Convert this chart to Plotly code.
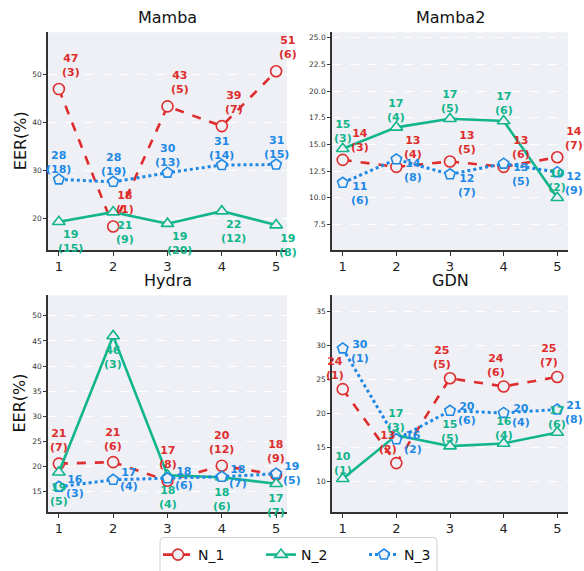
import plotly.graph_objects as go

# ---------------- data ----------------
x_vals = [1, 2, 3, 4, 5]
series_names = ["N_1", "N_2", "N_3"]
panel_titles = ["Mamba", "Mamba2", "Hydra", "GDN"]

mamba_n1 = [47.0, 18.4, 43.4, 39.3, 50.7]
mamba_n2 = [19.4, 21.4, 19.0, 21.6, 18.7]
mamba_n3 = [28.2, 27.7, 29.6, 31.2, 31.3]
mamba_r1 = [3, 1, 5, 7, 6]
mamba_r2 = [15, 9, 20, 12, 8]
mamba_r3 = [18, 19, 13, 14, 15]

mamba2_n1 = [13.55, 12.9, 13.4, 12.9, 13.8]
mamba2_n2 = [14.6, 16.6, 17.4, 17.2, 10.0]
mamba2_n3 = [11.4, 13.6, 12.2, 13.2, 12.4]
mamba2_r1 = [3, 4, 5, 6, 7]
mamba2_r2 = [3, 4, 5, 6, 2]
mamba2_r3 = [6, 8, 7, 5, 9]

hydra_n1 = [20.6, 20.9, 17.2, 20.2, 18.4]
hydra_n2 = [18.9, 46.0, 18.3, 17.9, 16.6]
hydra_n3 = [16.0, 17.4, 17.7, 18.0, 18.6]
hydra_r1 = [7, 6, 8, 12, 9]
hydra_r2 = [5, 3, 4, 6, 7]
hydra_r3 = [3, 4, 6, 7, 5]

gdn_n1 = [23.6, 12.7, 25.2, 24.0, 25.4]
gdn_n2 = [10.4, 16.8, 15.2, 15.6, 17.2]
gdn_n3 = [29.6, 16.2, 20.4, 20.1, 20.6]
gdn_r1 = [1, 2, 5, 6, 7]
gdn_r2 = [1, 3, 5, 4, 6]
gdn_r3 = [1, 2, 6, 4, 8]

# ---------------- styling ----------------
W, H = 584, 571
colors = ["#DE2D2D", "#12B58C", "#1E88E5"]
dashes = ["dash", "solid", "dot"]
widths = [2.6, 2.6, 3.0]
symbols = ["circle", "triangle-up", "pentagon"]
bg = "#EFF0F5"
font_family = "DejaVu Sans"

panels = [
    dict(vals=[mamba_n1, mamba_n2, mamba_n3], ranks=[mamba_r1, mamba_r2, mamba_r3],
         px=(48, 287), py=(33, 255), yr=[13.5, 58.8], ticks=[20, 30, 40, 50], fmt="{:d}",
         off=[(12, 24), (12, -20), (0, 17)], ylabel=True),
    dict(vals=[mamba2_n1, mamba2_n2, mamba2_n3], ranks=[mamba2_r1, mamba2_r2, mamba2_r3],
         px=(332, 568), py=(33, 255), yr=[5.1, 25.5],
         ticks=[7.5, 10.0, 12.5, 15.0, 17.5, 20.0, 22.5, 25.0], fmt="{:.1f}",
         off=[(17, 19), (0, 17), (17, -11)], ylabel=False),
    dict(vals=[hydra_n1, hydra_n2, hydra_n3], ranks=[hydra_r1, hydra_r2, hydra_r3],
         px=(48, 287), py=(301, 522), yr=[11.0, 54.1], ticks=[15, 20, 25, 30, 35, 40, 45, 50], fmt="{:d}",
         off=[(0, 23), (0, -22), (16, 0)], ylabel=True),
    dict(vals=[gdn_n1, gdn_n2, gdn_n3], ranks=[gdn_r1, gdn_r2, gdn_r3],
         px=(332, 568), py=(301, 522), yr=[5.5, 37.45], ticks=[10, 15, 20, 25, 30, 35], fmt="{:d}",
         off=[(-8, 21), (0, 15), (17, -3)], ylabel=False),
]

fig = go.Figure()
annotations = []
layout = {}

for i, p in enumerate(panels):
    k = "" if i == 0 else str(i + 1)
    xa, ya = "x" + k, "y" + k
    xdom = [p["px"][0] / W, p["px"][1] / W]
    ydom = [1 - p["py"][1] / H, 1 - p["py"][0] / H]
    layout["xaxis" + k] = dict(
        domain=xdom, range=[0.8, 5.2], anchor=ya, tickvals=x_vals,
        ticktext=[str(v) for v in x_vals], showgrid=False, zeroline=False,
        showline=True, linecolor="#333333", linewidth=1.5, ticks="outside",
        ticklen=4, tickcolor="#333333", tickfont=dict(size=13, color="#222", family=font_family),
        fixedrange=True)
    layout["yaxis" + k] = dict(
        domain=ydom, range=p["yr"], anchor=xa, tickvals=p["ticks"],
        ticktext=[p["fmt"].format(int(t) if p["fmt"] == "{:d}" else t) for t in p["ticks"]],
        showgrid=True, gridcolor="white", griddash="dash", gridwidth=1.3, zeroline=False,
        showline=True, linecolor="#333333", linewidth=1.5, ticks="outside",
        ticklen=3, tickcolor="#333333", tickfont=dict(size=7.5, color="#333", family=font_family),
        fixedrange=True)
    for s in range(3):
        fig.add_trace(go.Scatter(
            x=x_vals, y=p["vals"][s], xaxis=xa, yaxis=ya, mode="lines+markers",
            name=series_names[s], legendgroup=series_names[s], showlegend=(i == 0),
            line=dict(color=colors[s], dash=dashes[s], width=widths[s]),
            marker=dict(symbol=symbols[s], size=11, color=bg,
                        line=dict(color=colors[s], width=1.6)),
            cliponaxis=False))
        dx, dy = p["off"][s]
        for xv, yv, r in zip(x_vals, p["vals"][s], p["ranks"][s]):
            annotations.append(dict(
                x=xv, y=yv, xref=xa, yref=ya, text=f"<b>{round(yv)}<br>({r})</b>",
                showarrow=False, xshift=dx, yshift=dy,
                font=dict(size=11, color=colors[s], family=font_family)))
    # panel title
    annotations.append(dict(
        x=(p["px"][0] + p["px"][1]) / 2 / W, y=1 - (p["py"][0] - 15) / H,
        xref="paper", yref="paper", text=panel_titles[i], showarrow=False,
        font=dict(size=16, color="#111", family=font_family), yanchor="middle",
        xanchor="center"))
    if p["ylabel"]:
        annotations.append(dict(
            x=20 / W, y=1 - (p["py"][0] + p["py"][1]) / 2 / H, xref="paper", yref="paper",
            text="EER(%)", textangle=-90, showarrow=False, xanchor="center", yanchor="middle",
            font=dict(size=16, color="#111", family=font_family)))

# plot backgrounds as shapes
shapes = []
for i, p in enumerate(panels):
    shapes.append(dict(type="rect", xref="paper", yref="paper", layer="below",
                       x0=p["px"][0] / W, x1=p["px"][1] / W,
                       y0=1 - p["py"][1] / H, y1=1 - p["py"][0] / H,
                       fillcolor=bg, line=dict(width=0)))


# rounded legend frame (extends below the page edge, as in the reference)
def px2paper_path(x0, x1, y0, y1, r):
    fx = lambda v: v / W
    fy = lambda v: 1 - v / H
    return (f"M {fx(x0 + r)},{fy(y0)} L {fx(x1 - r)},{fy(y0)} Q {fx(x1)},{fy(y0)} {fx(x1)},{fy(y0 + r)} "
            f"L {fx(x1)},{fy(y1)} L {fx(x0)},{fy(y1)} L {fx(x0)},{fy(y0 + r)} "
            f"Q {fx(x0)},{fy(y0)} {fx(x0 + r)},{fy(y0)} Z")


shapes.append(dict(type="path", xref="paper", yref="paper", layer="above",
                   path=px2paper_path(160, 437, 548, 585, 4),
                   fillcolor="white", line=dict(color="#D0D0D0", width=1)))

fig.update_layout(
    width=W, height=H, margin=dict(l=0, r=0, t=0, b=0),
    paper_bgcolor="white", plot_bgcolor="rgba(0,0,0,0)",
    font=dict(family=font_family),
    annotations=annotations, shapes=shapes,
    legend=dict(orientation="h", x=158 / W, xanchor="left", y=1 - 550 / H, yanchor="top",
                bgcolor="rgba(0,0,0,0)", borderwidth=0,
                font=dict(size=14, color="#111", family=font_family),
                entrywidth=58, itemwidth=30),
    **layout)

fig.write_html("out.html", config={"displayModeBar": False},
               post_script="document.body.style.margin='0';document.body.style.overflow='hidden';")
